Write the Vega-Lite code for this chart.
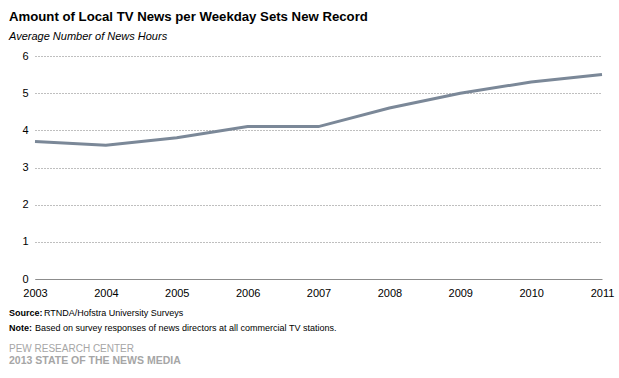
{
  "$schema": "https://vega.github.io/schema/vega-lite/v6.json",
  "background": "white",
  "padding": {"left": 9, "top": 9, "right": 5, "bottom": 0},
  "config": {"view": {"stroke": null}, "font": "Liberation Sans"},
  "title": {
    "text": "Amount of Local TV News per Weekday  Sets New Record",
    "subtitle": "Average Number of News Hours",
    "anchor": "start",
    "font": "Liberation Sans",
    "fontSize": 13.2,
    "fontWeight": "bold",
    "color": "#000000",
    "subtitleFont": "Liberation Sans",
    "subtitleFontSize": 11,
    "subtitleFontStyle": "italic",
    "subtitleColor": "#000000",
    "subtitlePadding": 7,
    "offset": 7
  },
  "spacing": 8,
  "vconcat": [
    {
      "width": 567,
      "height": 223,
      "data": {"values": [
        {"year": 2003, "hours": 3.7},
        {"year": 2004, "hours": 3.6},
        {"year": 2005, "hours": 3.8},
        {"year": 2006, "hours": 4.1},
        {"year": 2007, "hours": 4.1},
        {"year": 2008, "hours": 4.6},
        {"year": 2009, "hours": 5.0},
        {"year": 2010, "hours": 5.3},
        {"year": 2011, "hours": 5.5}
      ]},
      "mark": {"type": "line", "color": "#7b8898", "strokeWidth": 3},
      "encoding": {
        "x": {
          "field": "year", "type": "quantitative",
          "scale": {"domain": [2003, 2011], "nice": false, "zero": false},
          "axis": {
            "title": null, "format": "d", "values": [2003, 2004, 2005, 2006, 2007, 2008, 2009, 2010, 2011],
            "grid": false, "ticks": false, "domainColor": "#8c8c8c", "domainWidth": 1,
            "labelFont": "Liberation Sans", "labelFontSize": 11, "labelColor": "#000000",
            "labelPadding": 8, "labelFlush": false
          }
        },
        "y": {
          "field": "hours", "type": "quantitative",
          "scale": {"domain": [0, 6], "nice": false},
          "axis": {
            "title": null, "values": [0, 1, 2, 3, 4, 5, 6], "domain": false, "ticks": false,
            "gridDash": [1, 2], "gridColor": "#7f7f7f", "gridWidth": 1,
            "labelFont": "Liberation Sans", "labelFontSize": 11, "labelColor": "#000000",
            "labelPadding": 7
          }
        }
      }
    },
    {
      "width": 567,
      "height": 58,
      "data": {"values": [
        {"line": 1, "label": "Source:", "text": "RTNDA/Hofstra University Surveys"},
        {"line": 2, "label": "Note:", "text": "Based on survey responses of news directors at all commercial TV  stations."},
        {"line": 3, "label": "PEW RESEARCH CENTER", "text": ""},
        {"line": 4, "label": "2013 STATE OF THE NEWS MEDIA", "text": ""}
      ]},
      "encoding": {
        "y": {"field": "line", "type": "ordinal", "axis": null, "scale": {"paddingOuter": 0}}
      },
      "layer": [
        {
          "transform": [{"filter": "datum.line <= 2"}],
          "mark": {"type": "text", "align": "left", "baseline": "middle", "x": -26, "fontSize": 9, "fontWeight": "bold", "color": "#000000"},
          "encoding": {"text": {"field": "label"}}
        },
        {
          "transform": [{"filter": "datum.line == 1"}],
          "mark": {"type": "text", "align": "left", "baseline": "middle", "x": 9, "fontSize": 9, "color": "#000000"},
          "encoding": {"text": {"field": "text"}}
        },
        {
          "transform": [{"filter": "datum.line == 2"}],
          "mark": {"type": "text", "align": "left", "baseline": "middle", "x": 0, "fontSize": 9, "color": "#000000"},
          "encoding": {"text": {"field": "text"}}
        },
        {
          "transform": [{"filter": "datum.line == 3"}],
          "mark": {"type": "text", "align": "left", "baseline": "middle", "x": -26, "dy": 7, "fontSize": 10, "color": "#a6a6a6"},
          "encoding": {"text": {"field": "label"}}
        },
        {
          "transform": [{"filter": "datum.line == 4"}],
          "mark": {"type": "text", "align": "left", "baseline": "middle", "x": -26, "dy": 4, "fontSize": 10.5, "fontWeight": "bold", "color": "#a6a6a6"},
          "encoding": {"text": {"field": "label"}}
        }
      ]
    }
  ]
}
